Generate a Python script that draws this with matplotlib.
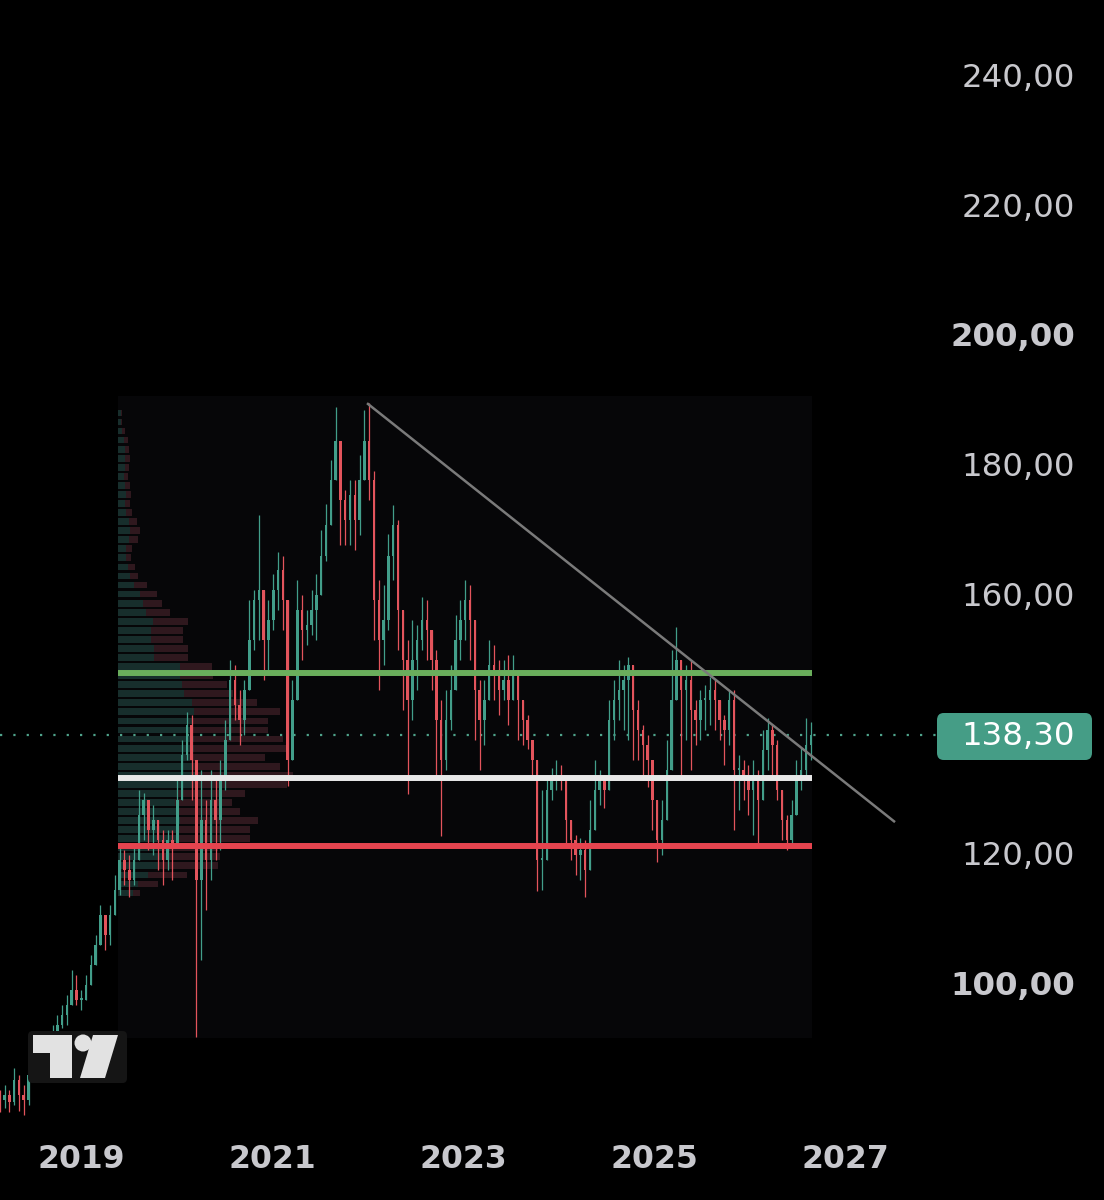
import numpy as np
import matplotlib
matplotlib.use('Agg')
import matplotlib.pyplot as plt
from matplotlib.patches import Rectangle, FancyBboxPatch, Ellipse, Polygon

# --- price data (roughly 2.5-week candles) ---
start_year = 2018.15
step_year = 0.0502
first_open = 82.5

closes = [81.9, 82.7, 81.6, 85.0, 82.7, 81.9, 85.8, 87.3, 88.1, 89.7,
          90.4, 92.0, 93.5, 95.1, 96.6, 98.9, 97.4, 97.4, 99.7, 102.8,
          105.8, 110.5, 107.4, 110.5, 114.3, 119.0, 117.4, 115.9, 119.0, 125.9,
          128.2, 123.6, 125.1, 122.0, 119.0, 122.0, 121.3, 128.2, 135.2, 139.8,
          134.4, 115.9, 125.1, 119.0, 128.2, 125.1, 131.3, 137.5, 146.7, 142.9,
          140.5, 145.2, 152.9, 159.1, 160.6, 152.9, 156.0, 160.6, 163.6, 159.1,
          134.4, 143.6, 157.5, 154.4, 155.2, 157.5, 159.8, 165.8, 170.6, 177.5,
          183.6, 174.5, 171.4, 175.2, 171.4, 177.5, 183.6, 177.5, 159.1, 152.9,
          156.0, 165.8, 170.6, 157.5, 149.8, 143.6, 149.8, 152.9, 156.0, 154.4,
          149.8, 140.5, 134.4, 140.5, 145.2, 152.9, 156.0, 159.1, 156.0, 145.2,
          140.5, 143.6, 149.0, 148.3, 145.2, 146.7, 143.6, 147.5, 143.6, 140.5,
          137.5, 134.4, 119.0, 119.0, 129.8, 131.3, 132.0, 131.3, 125.1, 122.0,
          119.7, 120.5, 117.4, 123.6, 129.8, 131.3, 129.8, 140.5, 143.6, 145.2,
          146.7, 149.0, 142.1, 139.0, 136.7, 134.4, 128.2, 122.0, 125.1, 132.8,
          143.6, 149.8, 145.2, 146.7, 142.1, 140.5, 143.6, 143.6, 145.2, 143.6,
          140.5, 139.0, 143.6, 132.8, 132.8, 131.3, 129.8, 131.3, 128.2, 135.9,
          139.0, 136.7, 129.8, 125.1, 122.0, 125.9, 131.3, 132.8, 136.7, 138.3]

highs = [83.5, 84.3, 83.5, 86.9, 85.8, 84.3, 87.3, 88.9, 89.7, 91.2,
         92.0, 93.5, 95.1, 96.6, 98.1, 102.0, 101.2, 98.9, 101.2, 104.3,
         107.4, 112.0, 110.5, 112.0, 116.6, 121.3, 120.5, 119.7, 121.3, 129.8,
         129.3, 126.7, 127.4, 125.1, 123.6, 123.6, 123.6, 131.3, 137.5, 141.8,
         141.3, 134.4, 132.8, 128.2, 132.8, 132.0, 134.4, 140.5, 149.8, 149.0,
         145.2, 146.7, 159.1, 160.6, 172.2, 159.1, 159.1, 163.0, 166.5, 165.8,
         159.1, 146.7, 162.1, 159.8, 157.5, 160.6, 163.0, 169.8, 173.8, 180.6,
         188.8, 182.1, 176.0, 177.5, 177.5, 181.4, 188.3, 189.4, 179.0, 162.1,
         161.3, 169.2, 173.7, 171.4, 156.0, 152.9, 156.0, 155.2, 159.5, 159.1,
         154.4, 151.3, 143.6, 145.2, 149.0, 156.7, 159.1, 162.1, 161.3, 152.9,
         146.7, 146.7, 152.9, 152.1, 149.8, 149.8, 150.6, 150.6, 146.7, 143.6,
         141.3, 137.5, 134.4, 129.8, 132.0, 133.2, 134.4, 133.6, 131.3, 125.1,
         122.8, 122.4, 122.0, 128.2, 134.4, 132.8, 132.0, 143.6, 146.7, 149.8,
         149.0, 150.3, 146.7, 143.6, 139.8, 138.2, 131.3, 128.2, 128.2, 137.5,
         151.3, 154.9, 149.8, 149.0, 149.8, 143.6, 145.2, 146.0, 147.2, 146.7,
         143.6, 141.3, 145.2, 145.2, 135.2, 134.4, 133.6, 134.4, 132.8, 139.0,
         140.9, 139.8, 137.5, 129.8, 125.9, 128.2, 134.4, 136.2, 140.9, 140.3]

lows = [80.1, 80.7, 80.1, 81.2, 80.3, 79.6, 81.2, 85.8, 86.6, 87.3,
        88.4, 89.9, 91.5, 93.1, 93.5, 97.4, 96.6, 95.8, 97.4, 99.7,
        103.5, 105.8, 105.1, 105.8, 112.0, 113.6, 115.1, 113.3, 115.1, 119.0,
        122.0, 120.5, 119.7, 117.4, 115.1, 117.4, 115.9, 121.3, 128.2, 134.4,
        128.2, 91.7, 103.5, 111.2, 115.9, 119.0, 120.5, 129.8, 137.5, 140.5,
        136.7, 138.3, 146.7, 151.3, 152.9, 146.7, 148.3, 154.4, 157.5, 154.4,
        130.4, 134.4, 145.2, 149.8, 152.1, 153.7, 152.9, 160.6, 165.0, 170.6,
        177.5, 167.5, 167.5, 167.5, 166.7, 169.0, 177.5, 174.5, 152.9, 145.2,
        149.0, 154.4, 162.1, 151.3, 142.1, 129.1, 140.5, 145.2, 151.3, 149.8,
        145.2, 131.3, 122.6, 132.8, 139.0, 146.7, 149.8, 152.9, 149.8, 137.5,
        132.8, 136.7, 143.6, 143.6, 141.3, 143.6, 139.8, 143.6, 137.5, 136.7,
        136.0, 132.0, 114.2, 114.3, 122.0, 128.2, 129.8, 129.8, 121.3, 119.0,
        116.6, 115.9, 113.3, 117.4, 126.7, 127.4, 127.0, 129.8, 137.5, 140.5,
        139.0, 137.5, 134.4, 134.4, 131.3, 130.2, 123.6, 118.7, 119.7, 128.2,
        134.4, 143.6, 132.0, 137.5, 132.8, 136.7, 137.5, 139.0, 139.8, 139.0,
        137.5, 133.6, 136.7, 123.6, 126.7, 128.2, 125.9, 122.8, 121.3, 129.8,
        132.8, 132.0, 128.2, 122.0, 120.5, 120.8, 126.7, 129.8, 131.3, 134.4]

last_price = 138.30

# --- volume profile (top row first), arbitrary volume units ---
profile_top = 187.9
profile_step = 1.397
profile_up = [3, 3, 4, 6, 7, 7, 7, 6, 7, 8, 7, 8,
              11, 12, 11, 8, 8, 10, 12, 16,
              22, 25, 28, 35, 33, 33, 36, 36,
              62, 62, 64, 66, 74, 76, 74, 74, 76, 76, 72, 74,
              78, 74, 59, 57, 59, 62, 60, 60, 45, 45, 40, 30, 20, 15]
profile_down = [1, 1, 3, 4, 4, 5, 4, 4, 5, 5, 5, 6,
                8, 10, 9, 6, 5, 7, 8, 13,
                17, 19, 24, 35, 32, 32, 34, 34,
                32, 33, 45, 49, 65, 86, 76, 76, 89, 93, 75, 88,
                97, 95, 68, 57, 63, 78, 72, 72, 55, 57, 60, 39, 20, 7]

# --- drawn levels ---
range_start, range_end = 2019.387, 2026.647
level_values = [147.8, 131.6, 121.1]
level_colors = ['#6aae5c', '#e8e8e8', '#e5444f']
trend_x = [2021.992, 2027.515]
trend_y = [189.4, 124.8]

yticks = [100, 120, 140, 160, 180, 200, 220, 240]
ylabels = ['100,00', '120,00', '140,00', '160,00', '180,00', '200,00', '220,00', '240,00']
xticks = [2019, 2021, 2023, 2025, 2027]
xlabels = ['2019', '2021', '2023', '2025', '2027']

UP = '#429e8a'
DOWN = '#e3545c'
TXT = '#c8c8cd'

W, H = 1104, 1200
fig = plt.figure(figsize=(W / 100, H / 100), dpi=100, facecolor='black')
ax = fig.add_axes([0, 0, 1, 1], facecolor='black')
ax.set_xlim(2018.153, 2018.153 + W / 95.6)
ax.set_ylim(66.53, 251.57)
for s in ax.spines.values():
    s.set_visible(False)

# profile range background
ax.add_patch(Rectangle((range_start, 91.5), range_end - range_start, 99.0,
                       facecolor='#060608', edgecolor='none', zorder=1))

# volume profile bars
rows = profile_top - profile_step * np.arange(len(profile_up))
px_year = 1 / 95.6
up_w = np.array(profile_up) * px_year
dn_w = np.array(profile_down) * px_year
ax.barh(rows, up_w, left=range_start, height=profile_step * 0.75,
        color='#172e2c', linewidth=0, zorder=2)
ax.barh(rows, dn_w, left=range_start + up_w, height=profile_step * 0.75,
        color='#2f181e', linewidth=0, zorder=2)

# candles
c = np.array(closes)
o = np.r_[first_open, c[:-1]]
h = np.maximum(np.array(highs), np.maximum(o, c))
l = np.minimum(np.array(lows), np.minimum(o, c))
t = start_year + np.arange(len(c)) * step_year
cols = np.where(c >= o, UP, DOWN)
ax.vlines(t, l, h, colors=cols, linewidth=0.9, zorder=4)
ax.bar(t, np.maximum(np.abs(c - o), 0.3), bottom=np.minimum(o, c), width=0.026,
       color=cols, linewidth=0, zorder=4)

# horizontal levels and trendline
ax.hlines(level_values, range_start, range_end, colors=level_colors, linewidth=4.3, zorder=5)
ax.plot(trend_x, trend_y, color='#7a7a7a', linewidth=1.8, zorder=6, solid_capstyle='butt')

# last price line and label
ax.axhline(last_price, xmin=0, xmax=937 / W, color='#4fa38b', linewidth=1.6,
           linestyle=(0, (1, 5)), zorder=3)
ax.add_patch(FancyBboxPatch((937 / W, 1 - 760 / H), 155 / W, 47 / H,
                            boxstyle='round,pad=0,rounding_size=0.006',
                            transform=ax.transAxes, facecolor='#459d86',
                            edgecolor='none', zorder=7))
ax.text(1018 / W, 1 - 736.5 / H, '138,30', transform=ax.transAxes, ha='center',
        va='center', color='white', fontsize=23.3, zorder=8)

# axes labels
ax.yaxis.tick_right()
ax.set_yticks(yticks, ylabels)
ax.tick_params(axis='y', length=0, pad=-20.9, labelsize=23.3, labelcolor=TXT)
for v, lbl in zip(yticks, ax.get_yticklabels()):
    lbl.set_ha('right')
    if v in (100, 200):
        lbl.set_fontweight('bold')
ax.set_xticks(xticks, xlabels)
ax.tick_params(axis='x', length=0, pad=-28.8, labelsize=22.7, labelcolor=TXT)
for lbl in ax.get_xticklabels():
    lbl.set_va('center')
    lbl.set_fontweight('bold')


# tradingview logo
def fp(x, y):
    return (x / W, 1 - y / H)


ax.add_patch(FancyBboxPatch(fp(28, 1083), 99 / W, 52 / H,
                            boxstyle='round,pad=0,rounding_size=0.004',
                            transform=ax.transAxes, facecolor='#151515',
                            edgecolor='none', zorder=9))
ax.add_patch(Polygon([fp(33, 1035), fp(72, 1035), fp(72, 1078), fp(50, 1078),
                      fp(50, 1053), fp(33, 1053)], closed=True,
                     transform=ax.transAxes, facecolor='#e2e2e2', edgecolor='none', zorder=10))
ax.add_patch(Ellipse(fp(83, 1043), 17 / W, 17 / H, transform=ax.transAxes,
                     facecolor='#e2e2e2', edgecolor='none', zorder=10))
ax.add_patch(Polygon([fp(80, 1078), fp(105, 1078), fp(118, 1035), fp(93, 1035)],
                     closed=True, transform=ax.transAxes, facecolor='#e2e2e2',
                     edgecolor='none', zorder=10))

fig.savefig('out.png', dpi=100, facecolor='black')
